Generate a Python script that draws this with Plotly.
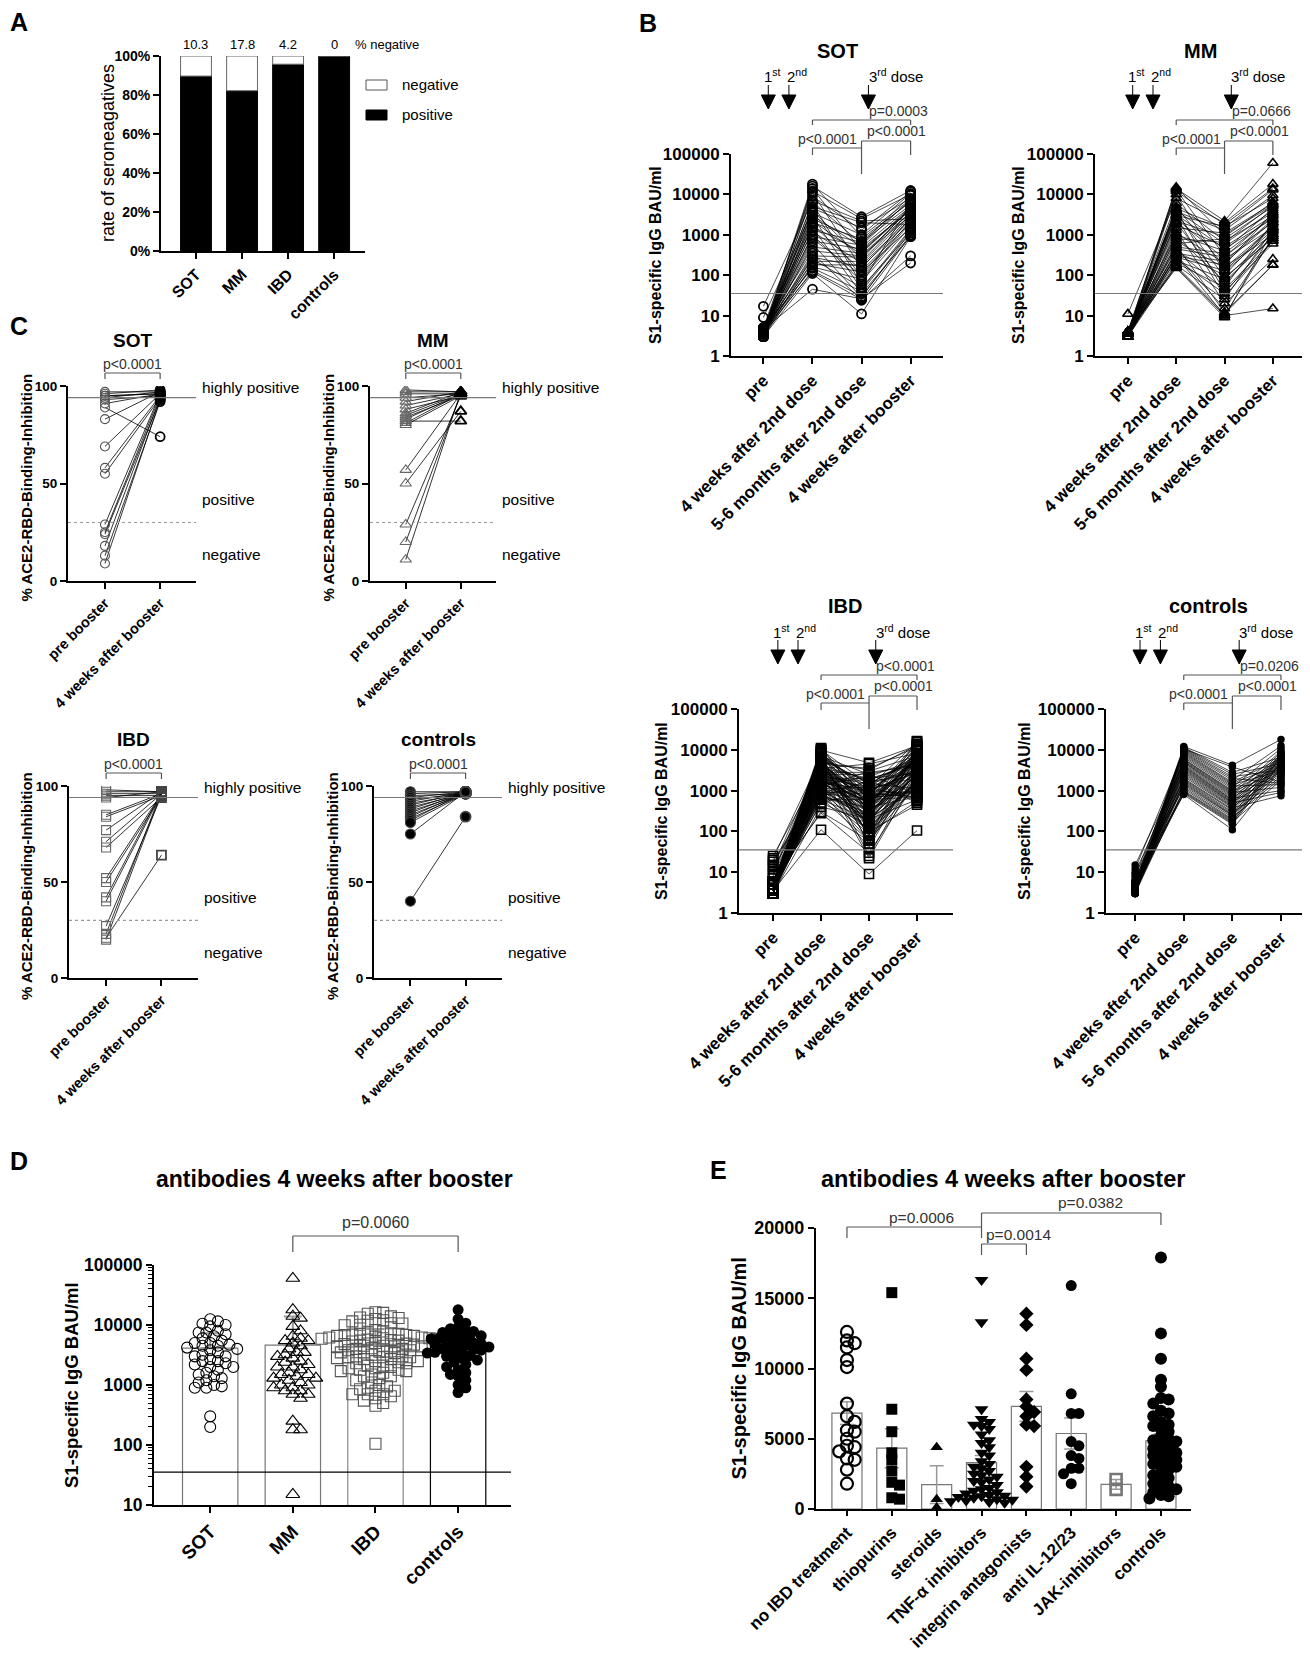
import numpy as np
import plotly.graph_objects as go

W, H = 1310, 1656
FONT = "Liberation Sans, Arial, sans-serif"

# ---------------- data ----------------
groups = ["SOT", "MM", "IBD", "controls"]
neg_pct = [10.3, 17.8, 4.2, 0]

timepoints = ["pre", "4 weeks after 2nd dose", "5-6 months after 2nd dose", "4 weeks after booster"]
threshold_bau = 35.2

sot_pre = [4, 3.5, 4, 5, 3, 4, 17, 3.5, 4.5, 3,
           4, 9, 3.5, 4, 5, 3, 4, 3.5, 4.5, 3,
           4, 5, 3.5, 4, 3, 4.5, 4, 3.5, 3, 4,
           5, 3.5, 4, 3, 4.5, 3.5, 4, 3, 4, 5,
           3.5, 4, 3, 4.5]
sot_4wk = [18000, 16000, 14000, 12000, 11000, 9000, 7000, 6500, 6000, 5000,
           4500, 4000, 3800, 3500, 3000, 2800, 2500, 2200, 2000, 1800,
           1600, 1500, 1300, 1200, 1000, 900, 800, 700, 600, 500,
           400, 350, 300, 280, 250, 220, 200, 180, 160, 150,
           130, 120, 110, 45]
sot_6mo = [900, 2800, 400, 2500, 150, 1300, 2200, 600, 60, 2000,
           1500, 250, 90, 1000, 500, 45, 700, 320, 800, 130,
           380, 35, 650, 200, 70, 550, 100, 450, 28, 350,
           300, 24, 280, 160, 50, 220, 120, 180, 80, 40,
           30, 25, 11, 26]
sot_boost = [7500, 12500, 4500, 10000, 3000, 11500, 2500, 9500, 6000, 1800,
             8000, 4700, 2200, 10500, 5000, 1400, 7000, 3500, 6500, 2000,
             4200, 900, 5500, 3200, 1600, 7500, 2700, 4000, 1200, 5000,
             3000, 950, 4500, 2300, 1100, 3800, 1500, 2500, 2000, 1300,
             1000, 300, 900, 200]

mm_pre = [3.5, 4, 3, 4, 3.5, 11, 4, 3, 3.5, 4,
          3, 4, 3.5, 4, 3, 3.5, 4, 3, 4, 3.5,
          4, 3, 3.5, 4, 3, 4, 3.5, 3, 4, 3.5,
          4, 3, 3.5, 4, 3, 4, 3.5, 3, 4, 3.5,
          3, 4, 3.5, 4, 3]
mm_4wk = [15000, 14000, 13000, 12000, 10000, 8000, 6000, 5000, 4500, 4200,
          4000, 3800, 3500, 3200, 3000, 2800, 2500, 2200, 2000, 1800,
          1500, 1300, 1100, 1000, 900, 800, 700, 600, 550, 500,
          450, 400, 380, 350, 320, 300, 280, 250, 230, 200,
          180, 170, 160, 150, 300]
mm_6mo = [1000, 2200, 300, 1800, 120, 2000, 700, 160, 1500, 40,
          600, 1300, 90, 450, 1600, 30, 250, 900, 60, 500,
          1100, 20, 200, 400, 70, 650, 150, 800, 12, 350,
          280, 45, 100, 220, 15, 180, 130, 35, 80, 50,
          25, 11, 10, 9, 10]
mm_boost = [5500, 60000, 2000, 14000, 1300, 18000, 3500, 1000, 13000, 600,
            4000, 9500, 800, 2500, 8000, 700, 1500, 6500, 1200, 3000,
            6000, 250, 2200, 4500, 900, 5500, 1600, 5000, 180, 2800,
            3200, 700, 1800, 2400, 800, 3500, 1500, 1000, 1100, 2000,
            1400, 180, 900, 1300, 15]

# IBD antibodies 4 weeks after booster, by treatment (panel E)
e_groups = ["no IBD treatment", "thiopurins", "steroids", "TNF-\u03b1 inhibitors",
            "integrin antagonists", "anti IL-12/23", "JAK-inhibitors", "controls"]
e_noibd = [12600, 4500, 7500, 12000, 2800, 6200, 11500, 3600, 10600, 5500,
           1800, 11800, 5000, 6600, 4100, 10100, 3500, 5600, 4400]
e_thio = [3500, 15400, 800, 5500, 1900, 7100, 700, 4000, 2700, 1700]
e_ster = [4400, 700, 105]
e_tnf = [16300, 2300, 4700, 1000, 13300, 1700, 3200, 700, 6000, 500,
         7100, 1300, 2700, 900, 5700, 2000, 4000, 600, 6400, 1100,
         3000, 1500, 4900, 800, 2400, 450, 5900, 1200, 3800, 650,
         6200, 1900, 2900, 950, 4400, 550, 5300, 1400, 2500, 850,
         3400, 2100]
e_integ = [7300, 13900, 3000, 9900, 6000, 13100, 1600, 6900, 10700, 2300,
           7800, 5900, 6600]
e_il = [4500, 15900, 2900, 6800, 3600, 8200, 1800, 4800, 6800, 2500, 3800, 2900]
e_jak = [2100, 1400]
e_ctrl = [17900, 6600, 4600, 3200, 1500, 12500, 6200, 4400, 3100, 1400,
          10700, 6000, 4300, 3000, 1200, 9200, 5900, 4100, 2800, 1000,
          8700, 5700, 4000, 2600, 900, 7900, 5500, 3900, 2400, 750,
          7800, 5200, 3800, 2200, 7500, 5000, 3600, 2000, 7000, 4900,
          3500, 1800, 6800, 4800, 3400, 1600]

ibd_pre = [4, 3, 5, 22, 4, 3.5, 6, 4, 3, 8,
           5, 4, 3, 15, 4, 5, 3.5, 4, 6, 3,
           4, 5, 3, 18, 4, 3.5, 5, 4, 7, 3,
           4, 3.5, 5, 4, 3, 10, 4, 5, 3.5, 4,
           6, 3, 4, 5, 3.5, 25, 4, 3, 5, 4,
           3.5, 6, 4, 3, 5, 4, 12, 3.5, 4, 5,
           3, 4, 6, 3.5, 4, 5, 3, 4, 20, 3.5,
           5, 4, 3, 6, 4, 5, 3.5, 4, 3, 9,
           4, 5, 3.5, 4, 3, 6, 4, 5, 3, 14,
           4, 3.5, 5, 4, 3, 6, 4, 5, 3.5, 4,
           3]
ibd_4wk = [9800, 10500, 8000, 6500, 7200, 5000, 4200, 6000, 3500, 3000,
           2800, 4500, 2500, 2200, 2000, 1800, 1500, 1200, 1000, 8500,
           3000, 2500, 1800, 1500, 1200, 900, 700, 500, 280, 2000,
           600, 110, 11000, 9000, 7000, 6000, 5500, 5200, 5000, 4800,
           4500, 4200, 4000, 3800, 3600, 3400, 3200, 3000, 2800, 2600,
           2400, 2200, 2000, 1900, 1800, 1700, 1600, 1500, 1400, 1300,
           1200, 1100, 1000, 950, 900, 850, 800, 750, 700, 650,
           600, 500, 400, 300, 10000, 9000, 8000, 7000, 6000, 5000,
           4500, 4000, 3500, 3000, 2000, 1500, 800, 9500, 7000, 6000,
           5000, 4000, 3500, 3000, 2500, 2000, 1500, 1200, 900, 1500,
           1000]
ibd_6mo = [4800, 700, 1000, 50, 1000, 450, 180, 50, 800, 900, 90,
           3500, 600, 600, 2000, 900, 400, 160, 40, 600, 700,
           2500, 500, 400, 3000, 850, 380, 150, 30, 500, 600,
           9, 400, 300, 2500, 800, 350, 130, 25, 400, 500,
           1800, 350, 200, 2000, 750, 320, 120, 2800, 200, 400,
           1500, 300, 150, 1800, 700, 300, 100, 2200, 100, 300,
           1200, 250, 100, 1600, 650, 280, 90, 1800, 60, 200,
           1000, 200, 60, 1400, 600, 250, 80, 1500, 3200, 120,
           900, 150, 22, 1200, 550, 230, 70, 1200, 1500, 80,
           800, 4500, 300, 1100, 500, 200, 60, 1000, 1100, 200]
ibd_boost = e_noibd + e_thio + e_ster + e_tnf + e_integ + e_il + e_jak

ctrl_pre = [5, 4, 3.5, 6, 4, 3, 12, 5, 4, 3.5,
            8, 4, 5, 3, 4, 6, 3.5, 15, 4, 5,
            3, 4, 10, 3.5, 5, 4, 3, 6, 4, 3.5,
            5, 4, 7, 3, 4, 5, 3.5, 4, 9, 3,
            4, 5, 3.5, 4, 6, 3]
ctrl_4wk = [12000, 11500, 11000, 10500, 10000, 9500, 9000, 8500, 8000, 7500,
            7000, 6500, 6000, 5800, 5500, 5200, 5000, 4800, 4500, 4200,
            4000, 3800, 3600, 3400, 3200, 3000, 2800, 2600, 2400, 2200,
            2000, 1900, 1800, 1700, 1600, 1500, 1400, 1300, 1200, 1100,
            1000, 950, 900, 850, 800, 10500]
ctrl_6mo = [4200, 2800, 2500, 2200, 2000, 1800, 1600, 1500, 1400, 1300,
            1200, 1100, 1000, 950, 900, 850, 800, 750, 700, 650,
            600, 580, 550, 520, 500, 480, 450, 420, 400, 380,
            350, 330, 300, 280, 260, 250, 240, 220, 200, 190,
            180, 170, 160, 150, 110, 3800]
ctrl_boost = e_ctrl

# ACE2-RBD binding inhibition (%) pre booster / 4 weeks after booster
c_labels = ["pre booster", "4 weeks after booster"]
c_sot_pre = [97, 96, 95, 95, 94, 93, 91, 89, 83, 69, 58, 55, 29, 25, 24, 18, 13, 9]
c_sot_post = [97, 98, 96, 96, 97, 95, 96, 74, 97, 96, 95, 94, 96, 95, 93, 94, 92, 93]
c_mm_pre = [98, 97, 96, 94, 92, 90, 88, 86, 85, 84, 83, 82, 81, 80, 57, 50, 29, 20, 11]
c_mm_post = [97, 97, 96, 96, 97, 96, 95, 97, 96, 95, 96, 82, 96, 95, 96, 87, 95, 96, 97]
c_ibd_pre = [98, 97, 96, 95, 94, 85, 84, 77, 71, 68, 52, 50, 42, 40, 27, 23, 21, 20]
c_ibd_post = [97, 97, 96, 95, 97, 96, 95, 97, 96, 94, 96, 95, 97, 96, 95, 97, 64, 96]
c_ctrl_pre = [97, 96, 95, 94, 93, 92, 91, 90, 89, 88, 87, 86, 85, 84, 83, 82, 81, 75, 40]
c_ctrl_post = [97, 97, 96, 97, 96, 97, 96, 97, 96, 97, 96, 97, 96, 97, 96, 97, 96, 97, 84]
c_high, c_cut = 94, 30

# ---------------- layout helpers ----------------
# plotting boxes in page pixels: x0, x1, top, bottom, x range, y range
P = {
    "A": (153, 357, 48, 243, (-0.76, 3.67), (0, 100)),
    "Bs": (723, 935, 146, 348, (-0.66, 3.66), (0, 5)),
    "Bm": (1087, 1305, 146, 348, (-0.68, 3.83), (0, 5)),
    "Bi": (731, 945, 701, 905, (-0.71, 3.75), (0, 5)),
    "Bc": (1098, 1307, 701, 905, (-0.6, 3.7), (0, 5)),
    "Cs": (60, 188, 378, 573, (-0.67, 1.65), (0, 100)),
    "Cm": (362, 488, 378, 573, (-0.65, 1.64), (0, 100)),
    "Ci": (61, 190, 778, 970, (-0.67, 1.66), (0, 100)),
    "Cc": (366, 494, 778, 970, (-0.66, 1.66), (0, 100)),
    "D": (146, 503, 1257, 1497, (-0.68, 3.64), (1, 5)),
    "E": (808, 1183, 1220, 1501, (-0.69, 7.67), (0, 20000)),
}
AX = {k: i + 1 for i, k in enumerate(P)}


def cx(key, c):
    x0, x1, top, bot, xr, yr = P[key]
    return x0 + (c - xr[0]) / (xr[1] - xr[0]) * (x1 - x0)


def vy(key, v, log=False):
    x0, x1, top, bot, xr, yr = P[key]
    t = np.log10(v) if log else v
    return bot - (t - yr[0]) / (yr[1] - yr[0]) * (bot - top)


def ref(key):
    n = AX[key]
    s = "" if n == 1 else str(n)
    return "x" + s, "y" + s


def text(s, x, y, size, bold=False, xa="center", ya="middle", angle=0, color="black"):
    return dict(text=s, x=x / W, y=1 - y / H, xref="paper", yref="paper", showarrow=False,
                xanchor=xa, yanchor=ya, textangle=angle,
                font=dict(family=FONT, size=size, color=color, weight="bold" if bold else "normal"))


def seg(x0, y0, x1, y1, color="#555", width=1.2, dash="solid"):
    return dict(type="line", xref="paper", yref="paper", x0=x0 / W, y0=1 - y0 / H,
                x1=x1 / W, y1=1 - y1 / H, line=dict(color=color, width=width, dash=dash))


def bracket(key, c0, c1, y, d0, d1, color="#555"):
    a, b = cx(key, c0), cx(key, c1)
    return [seg(a, y, b, y, color), seg(a, y, a, y + d0, color), seg(b, y, b, y + d1, color)]


def arrow(x, top):
    path = "M {} {} L {} {} L {} {} Z".format((x - 7) / W, 1 - (top + 10) / H,
                                            (x + 7) / W, 1 - (top + 10) / H,
                                            x / W, 1 - (top + 24) / H)
    return [seg(x, top, x, top + 10, "black", 1),
            dict(type="path", xref="paper", yref="paper", path=path,
                 fillcolor="black", line=dict(color="black", width=1))]


def swarm(vals, ypx, diam, tight):
    order = np.argsort(vals)[::-1]
    placed, offs = [], [0.0] * len(vals)
    step = diam * 0.35
    lim = (tight * diam) ** 2
    for i in order:
        y = ypx[i]
        for k in range(400):
            cand = ((k + 1) // 2) * step * (1 if k % 2 else -1)
            if all((cand - px) ** 2 + (y - py) ** 2 >= lim for px, py in placed):
                break
        placed.append((cand, y))
        offs[i] = cand
    return offs


layout_axes = {}
common = dict(showline=True, linecolor="black", linewidth=2, ticks="outside", ticklen=6,
              tickwidth=2, tickcolor="black", showgrid=False, zeroline=False)


def add_axes(key, xlabels, xsize, yvals, ytext, ysize, log=False, minor=None):
    x0, x1, top, bot, xr, yr = P[key]
    n = AX[key]
    s = "" if n == 1 else str(n)
    layout_axes["xaxis" + s] = dict(common, domain=[x0 / W, x1 / W], range=list(xr), anchor="y" + s,
                                    tickmode="array", tickvals=list(range(len(xlabels))),
                                    ticktext=xlabels, tickangle=-45, automargin=False,
                                    tickfont=dict(family=FONT, size=xsize, color="black", weight="bold"))
    ya = dict(common, domain=[1 - bot / H, 1 - top / H], range=list(yr), anchor="x" + s,
              type="log" if log else "linear", tickmode="array", tickvals=yvals, ticktext=ytext,
              automargin=False,
              tickfont=dict(family=FONT, size=ysize, color="black", weight="bold"))
    if minor:
        ya["minor"] = minor
    layout_axes["yaxis" + s] = ya


fig = go.Figure()
shapes, annots = [], []

# ---------------- A ----------------
xa_, ya_ = ref("A")
pos_pct = [100 - v for v in neg_pct]
fig.add_trace(go.Bar(x=list(range(4)), y=pos_pct, width=0.67, xaxis=xa_, yaxis=ya_,
                     marker=dict(color="black", line=dict(color="black", width=1))))
fig.add_trace(go.Bar(x=list(range(4)), y=neg_pct, base=pos_pct, width=0.67, xaxis=xa_, yaxis=ya_,
                     marker=dict(color="white", line=dict(color="#666", width=1))))
add_axes("A", groups, 16, [0, 20, 40, 60, 80, 100], ["0%", "20%", "40%", "60%", "80%", "100%"], 14)
for i, v in enumerate(neg_pct):
    annots.append(text("{:g}".format(v), cx("A", i), 37, 13))
annots.append(text("% negative", 345, 37, 13, xa="left"))
shapes.append(dict(type="rect", xref="paper", yref="paper", x0=358 / W, x1=379 / W,
                   y0=1 - 82 / H, y1=1 - 72 / H, fillcolor="white", line=dict(color="#555", width=1)))
shapes.append(dict(type="rect", xref="paper", yref="paper", x0=358 / W, x1=379 / W,
                   y0=1 - 112 / H, y1=1 - 102 / H, fillcolor="black", line=dict(color="black", width=1)))
annots.append(text("negative", 392, 77, 15, xa="left"))
annots.append(text("positive", 392, 107, 15, xa="left"))
annots.append(text("rate of seroneagatives", 100, 145, 18, angle=-90))

# ---------------- B ----------------
b_sets = [
    ("Bs", "SOT", "p=0.0003", (sot_pre, sot_4wk, sot_6mo, sot_boost),
     dict(symbol="circle-open", size=9, color="black", line=dict(width=1.8)), 647),
    ("Bm", "MM", "p=0.0666", (mm_pre, mm_4wk, mm_6mo, mm_boost),
     dict(symbol="triangle-up-open", size=9, color="black", line=dict(width=1.6)), 1010),
    ("Bi", "IBD", "p<0.0001", (ibd_pre, ibd_4wk, ibd_6mo, ibd_boost),
     dict(symbol="square-open", size=9, color="black", line=dict(width=1.6)), 653),
    ("Bc", "controls", "p=0.0206", (ctrl_pre, ctrl_4wk, ctrl_6mo, ctrl_boost),
     dict(symbol="circle", size=7.5, color="black"), 1016),
]
dec_vals = [1, 10, 100, 1000, 10000, 100000]
dec_text = ["1", "10", "100", "1000", "10000", "100000"]
for key, title, ptop, series, mk, ytx in b_sets:
    xa_, ya_ = ref(key)
    n = len(series[0])
    lx, ly = [], []
    for i in range(n):
        lx += [0, 1, 2, 3, None]
        ly += [series[0][i], series[1][i], series[2][i], series[3][i], None]
    fig.add_trace(go.Scatter(x=lx, y=ly, mode="lines", line=dict(color="black", width=0.7),
                             xaxis=xa_, yaxis=ya_, hoverinfo="skip"))
    mx, my = [], []
    for t in range(4):
        mx += [t] * n
        my += list(series[t])
    fig.add_trace(go.Scatter(x=mx, y=my, mode="markers", marker=mk, xaxis=xa_, yaxis=ya_))
    add_axes(key, timepoints, 17, dec_vals, dec_text, 17, log=True)
    x0, x1, top, bot, xr, yr = P[key]
    ty = vy(key, threshold_bau, log=True)
    shapes.append(seg(x0, ty, x1, ty, "#777", 1.2))
    annots.append(text(title, cx(key, 1.5), top - 103, 20, bold=True))
    annots.append(text("1<sup>st</sup>", cx(key, 0.18), top - 78, 15))
    annots.append(text("2<sup>nd</sup>", cx(key, 0.68), top - 78, 15))
    annots.append(text("3<sup>rd</sup> dose", cx(key, 2.7), top - 78, 15))
    for c in (0.1, 0.52, 2.14):
        shapes += arrow(cx(key, c), top - 69)
    shapes += bracket(key, 1, 3, top - 34, 5, 5)
    annots.append(text(ptop, cx(key, 2.76), top - 43, 14, color="#333"))
    shapes += bracket(key, 1, 2, top - 6, 7, 0)
    shapes += bracket(key, 2, 3, top - 13, 33, 14)
    annots.append(text("p<0.0001", cx(key, 1.31), top - 15, 14, color="#333"))
    annots.append(text("p<0.0001", cx(key, 2.72), top - 23, 14, color="#333"))
    annots.append(text("S1-specific IgG BAU/ml", ytx, (top + bot) / 2, 16, bold=True, angle=-90))

# ---------------- C ----------------
c_sets = [
    ("Cs", "SOT", c_sot_pre, c_sot_post, "circle-open", 9, "#555", 18),
    ("Cm", "MM", c_mm_pre, c_mm_post, "triangle-up-open", 10, "#666", 320),
    ("Ci", "IBD", c_ibd_pre, c_ibd_post, "square-open", 9, "#666", 18),
    ("Cc", "controls", c_ctrl_pre, c_ctrl_post, "circle", 10, "black", 324),
]
for key, title, pre, post, sym, size, col, ytx in c_sets:
    xa_, ya_ = ref(key)
    lx, ly = [], []
    for a, b in zip(pre, post):
        lx += [0, 1, None]
        ly += [a, b, None]
    fig.add_trace(go.Scatter(x=lx, y=ly, mode="lines", line=dict(color="black", width=0.8),
                             xaxis=xa_, yaxis=ya_, hoverinfo="skip"))
    fig.add_trace(go.Scatter(x=[0] * len(pre), y=pre, mode="markers", xaxis=xa_, yaxis=ya_,
                             marker=dict(symbol=sym, size=size, color=col, line=dict(width=1.1))))
    fig.add_trace(go.Scatter(x=[1] * len(post), y=post, mode="markers", xaxis=xa_, yaxis=ya_,
                             marker=dict(symbol=sym, size=size, color="black" if key != "Ci" else "#444",
                                         line=dict(width=1.8))))
    add_axes(key, c_labels, 14.5, [0, 50, 100], ["0", "50", "100"], 13.5)
    x0, x1, top, bot, xr, yr = P[key]
    shapes.append(seg(x0, vy(key, c_high), x1, vy(key, c_high), "#777", 1.2))
    shapes.append(seg(x0, vy(key, c_cut), x1, vy(key, c_cut), "#999", 1.2, "dot"))
    annots.append(text(title, cx(key, 0.5), top - 46, 19, bold=True))
    annots.append(text("p<0.0001", cx(key, 0.5), top - 22, 14, color="#333"))
    shapes += bracket(key, 0, 1, top - 13, 6, 6)
    annots.append(text("highly positive", x1 + 4, top + 1, 15.5, xa="left"))
    annots.append(text("positive", x1 + 4, vy(key, 42), 15.5, xa="left"))
    annots.append(text("negative", x1 + 4, vy(key, 13.4), 15.5, xa="left"))
    annots.append(text("% ACE2-RBD-Binding-Inhibition", ytx, (top + bot) / 2 + 4, 15,
                       bold=True, angle=-90))

# ---------------- D ----------------
xa_, ya_ = ref("D")
d_data = [sot_boost, mm_boost, ibd_boost, ctrl_boost]
d_mean = [float(np.mean(v)) for v in d_data]
d_sd = [float(np.std(v, ddof=1)) for v in d_data]
fig.add_trace(go.Bar(x=list(range(4)), y=d_mean, width=0.67, xaxis=xa_, yaxis=ya_,
                     marker=dict(color="white", line=dict(color=["#777", "#777", "#888", "black"], width=1.2)),
                     error_y=dict(type="data", symmetric=False, array=d_sd, arrayminus=[0] * 4,
                                  color="#999", thickness=2, width=9)))
x0, x1, top, bot, xr, yr = P["D"]
spacing = (x1 - x0) / (xr[1] - xr[0])
d_marks = [dict(symbol="circle-open", size=11, color="black", line=dict(width=1.1)),
           dict(symbol="triangle-up-open", size=12, color="black", line=dict(width=1.1)),
           dict(symbol="square-open", size=11, color="#555", line=dict(width=1.1)),
           dict(symbol="circle", size=11, color="black")]
for g, vals in enumerate(d_data):
    ypx = [(np.log10(v) - yr[0]) / (yr[1] - yr[0]) * (bot - top) for v in vals]
    offs = swarm(vals, ypx, 11, 0.58)
    fig.add_trace(go.Scatter(x=[g + o / spacing for o in offs], y=vals, mode="markers",
                             marker=d_marks[g], xaxis=xa_, yaxis=ya_))
add_axes("D", groups, 19, [10, 100, 1000, 10000, 100000], ["10", "100", "1000", "10000", "100000"],
         17.5, log=True, minor=dict(ticks="outside", ticklen=4, tickwidth=1, tickcolor="black",
                                    dtick="D1", showgrid=False))
ty = vy("D", threshold_bau, log=True)
shapes.append(seg(x0, ty, x1, ty, "black", 1.2))
annots.append(text("antibodies 4 weeks after booster", cx("D", 1.5), 1171, 23, bold=True))
shapes += bracket("D", 1, 3, 1228, 16, 16)
annots.append(text("p=0.0060", cx("D", 2), 1214, 16, color="#333"))
annots.append(text("S1-specific IgG BAU/ml", 63, (top + bot) / 2, 18.5, bold=True, angle=-90))

# ---------------- E ----------------
xa_, ya_ = ref("E")
e_data = [e_noibd, e_thio, e_ster, e_tnf, e_integ, e_il, e_jak, e_ctrl]
e_mean = [float(np.mean(v)) for v in e_data]
e_sem = [float(np.std(v, ddof=1) / np.sqrt(len(v))) for v in e_data]
fig.add_trace(go.Bar(x=list(range(8)), y=e_mean, width=0.67, xaxis=xa_, yaxis=ya_,
                     marker=dict(color="white", line=dict(color="#777", width=1.2)),
                     error_y=dict(type="data", array=e_sem, color="#999", thickness=1.5, width=7)))
x0, x1, top, bot, xr, yr = P["E"]
spacing = (x1 - x0) / (xr[1] - xr[0])
e_marks = [dict(symbol="circle-open", size=12, color="black", line=dict(width=2.2)),
           dict(symbol="square", size=11, color="black"),
           dict(symbol="triangle-up", size=11, color="black"),
           dict(symbol="triangle-down", size=12, color="black"),
           dict(symbol="diamond", size=11, color="black"),
           dict(symbol="circle", size=11, color="black"),
           dict(symbol="square-open", size=11, color="#777", line=dict(width=2.6)),
           dict(symbol="circle", size=12, color="black")]
for g, vals in enumerate(e_data):
    ypx = [v / yr[1] * (bot - top) for v in vals]
    offs = swarm(vals, ypx, 11, 0.62)
    fig.add_trace(go.Scatter(x=[g + o / spacing for o in offs], y=vals, mode="markers",
                             marker=e_marks[g], xaxis=xa_, yaxis=ya_))
add_axes("E", e_groups, 17, [0, 5000, 10000, 15000, 20000],
         ["0", "5000", "10000", "15000", "20000"], 18)
layout_axes["xaxis" + str(AX["E"])]["ticklen"] = 5
annots.append(text("antibodies 4 weeks after booster", 995, 1171, 23.5, bold=True))
shapes += bracket("E", 0, 3, 1219, 11, 11)
annots.append(text("p=0.0006", cx("E", 1.66), 1209, 15.5, color="#333"))
shapes += bracket("E", 3, 7, 1205, 14, 12)
annots.append(text("p=0.0382", cx("E", 5.44), 1194, 15.5, color="#333"))
shapes += bracket("E", 3, 4, 1236, 11, 11)
annots.append(text("p=0.0014", cx("E", 3.83), 1226, 15.5, color="#333"))
annots.append(text("S1-specific IgG BAU/ml", 730, (top + bot) / 2, 20, bold=True, angle=-90))

# ---------------- panel letters ----------------
for s, x, y in [("A", 11, 14), ("B", 640, 15), ("C", 11, 318), ("D", 11, 1153), ("E", 710, 1162)]:
    annots.append(text(s, x, y, 25, bold=True))

fig.update_traces(showlegend=False)
fig.update_layout(width=W, height=H, margin=dict(l=0, r=0, t=0, b=0, pad=0, autoexpand=False),
                  barmode="overlay", plot_bgcolor="white", paper_bgcolor="white", showlegend=False,
                  font=dict(family=FONT, color="black"), shapes=shapes, annotations=annots,
                  **layout_axes)
fig.write_html("out.html")
